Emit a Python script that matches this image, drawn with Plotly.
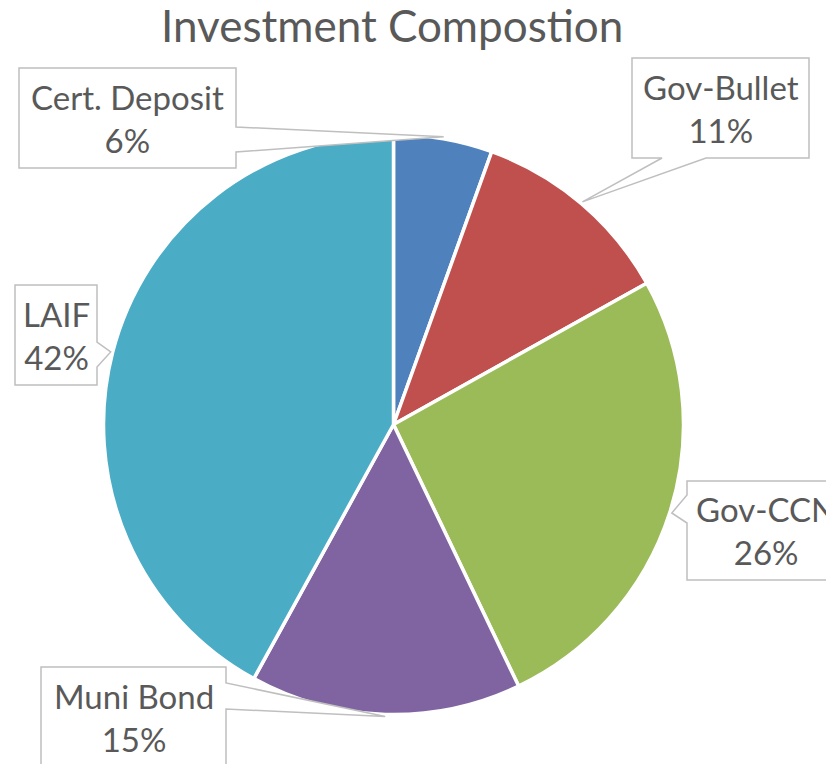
import math
import plotly.graph_objects as go

# data
categories = ["Cert. Deposit", "Gov-Bullet", "Gov-CCN", "Muni Bond", "LAIF"]
shares = [5.5, 11.4, 26.0, 15.1, 42.0]
colors = ["#4F81BD", "#C0504D", "#9BBB59", "#8064A2", "#4BACC6"]

W, H = 826, 764
TEXT = "#595959"
BORDER = "#BFBFBF"
FONT = "Lato"

# pie geometry in pixels (y down)
CX, CY, R = 393.5, 424.5, 290

# callout boxes: x0, y0, x1, y1, edge the wedge comes out of, wedge base (along edge)
boxes = {
    "Cert. Deposit": (19, 68, 236, 168, "right", (127, 152)),
    "Gov-Bullet": (632, 58, 809, 158, "bottom", (662, 706)),
    "LAIF": (15, 285, 97, 385, "right", (342, 367)),
    "Gov-CCN": (687, 481, 850, 580, "left", (495, 523)),
    "Muni Bond": (41, 667, 226, 767, "right", (683, 709)),
}

fig = go.Figure()

fig.add_trace(go.Pie(
    labels=categories,
    values=shares,
    sort=False,
    direction="clockwise",
    rotation=0,
    marker=dict(colors=colors, line=dict(color="white", width=3.5)),
    textinfo="none",
    hoverinfo="label+percent",
    showlegend=False,
    domain=dict(x=[(CX - R) / W, (CX + R) / W], y=[1 - (CY + R) / H, 1 - (CY - R) / H]),
))

# invisible pixel axes for the callouts
fig.add_trace(go.Scatter(x=[0, W], y=[0, H], mode="markers", marker=dict(opacity=0),
                         hoverinfo="skip", showlegend=False))

total = sum(shares)
cum = 0
for name, v in zip(categories, shares):
    mid = 2 * math.pi * (cum + v / 2) / total
    cum += v
    tx = CX + (R + 2) * math.sin(mid)
    ty = CY - (R + 2) * math.cos(mid)
    x0, y0, x1, y1, edge, (a, b) = boxes[name]
    pts = [(x0, y0), (x1, y0)]
    if edge == "right":
        pts += [(x1, a), (tx, ty), (x1, b)]
    pts += [(x1, y1)]
    if edge == "bottom":
        pts += [(b, y1), (tx, ty), (a, y1)]
    pts += [(x0, y1)]
    if edge == "left":
        pts += [(x0, b), (tx, ty), (x0, a)]
    path = "M " + " L ".join(f"{px:.1f},{py:.1f}" for px, py in pts) + " Z"
    fig.add_shape(type="path", path=path, xref="x", yref="y",
                  fillcolor="white", line=dict(color=BORDER, width=1.5), layer="above")
    pct = int(v + 0.5)
    cxm = (x0 + x1) / 2
    if name == "Gov-CCN":
        cxm = 766
    fig.add_annotation(x=cxm, y=(y0 + y1) / 2, xref="x", yref="y",
                       text=f"{name}<br>{pct}%", showarrow=False,
                       xanchor="center", yanchor="middle",
                       font=dict(family=FONT, size=33, color=TEXT))

fig.add_annotation(x=392, y=25, xref="x", yref="y", text="Investment Compostion",
                   showarrow=False, xanchor="center", yanchor="middle",
                   font=dict(family=FONT, size=44, color=TEXT))

fig.update_layout(
    width=W, height=H,
    margin=dict(l=0, r=0, t=0, b=0),
    paper_bgcolor="white", plot_bgcolor="rgba(0,0,0,0)",
    xaxis=dict(range=[0, W], visible=False, fixedrange=True),
    yaxis=dict(range=[H, 0], visible=False, fixedrange=True),
)

fig.write_html("out.html", config={"displayModeBar": False},
               post_script="document.body.style.margin='0';")
